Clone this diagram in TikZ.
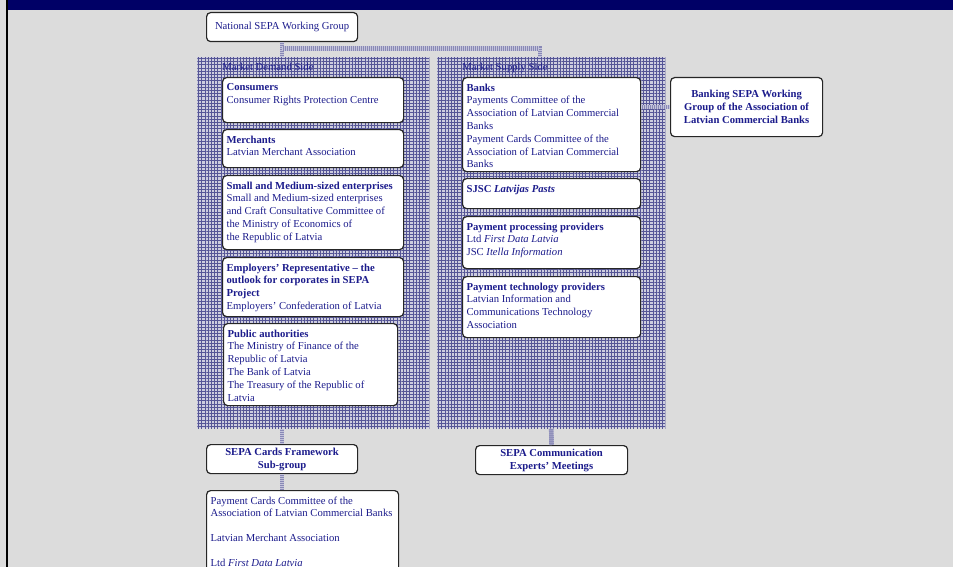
\documentclass[tikz,border=0pt]{standalone}
\usepackage{fontspec}
\setmainfont{Liberation Serif}
\usepackage{tikz}
\usetikzlibrary{patterns.meta,calc}
\definecolor{bandnavy}{RGB}{0,0,102}
\definecolor{textnavy}{RGB}{28,28,140}
\definecolor{pagegray}{RGB}{220,220,220}
\definecolor{panelbase}{RGB}{205,205,222}
\definecolor{panelnavy}{RGB}{85,85,150}
\tikzset{
    entry-box/.style = {draw=black!85, fill=white, line width=0.9pt, rectangle, rounded corners=3pt, inner xsep=3pt, inner ysep=4.5pt, anchor=north west, text=textnavy, font=\fontsize{8}{9.6}\selectfont},
    head-box/.style = {draw=black!85, fill=white, line width=0.9pt, rectangle, rounded corners=3pt, inner sep=2pt, anchor=north west, align=center, text=textnavy, font=\fontsize{8}{9.6}\selectfont\bfseries},
    panel-box/.style = {rectangle, anchor=north west, inner sep=0pt, fill=panelbase, postaction={pattern={Hatch[angle=0,distance=2.4pt,line width=0.4pt]}, pattern color=panelnavy}},
    panel-title/.style = {anchor=base west, inner sep=0pt, text=textnavy, font=\fontsize{8}{9.6}\selectfont},
    link-line/.style = {draw=panelnavy!70, line width=3.5pt, postaction={draw=white, line width=3.5pt, dash pattern=on 0.5pt off 1pt, opacity=0.5}},
}

\begin{document}
\begin{tikzpicture}[x=0.75pt, y=-0.75pt]
\clip (0,0) rectangle (953,567);
\fill[pagegray] (0,0) rectangle (953,567);
\fill[bandnavy] (8,0) rectangle (953,10);
\fill[black] (6,0) rectangle (8,567);

\node[head-box, font=\fontsize{8}{9.6}\selectfont, minimum width=113.25pt, minimum height=21.75pt] (national) at (206,12) {National SEPA Working Group};

\node[panel-box, minimum width=174pt, minimum height=278.25pt] (demand) at (197,57) {};
\node[panel-box, minimum width=171pt, minimum height=278.25pt] (supply) at (437,57) {};
\node[panel-title] (demandtitle) at (222,71) {Market Demand Side};
\node[panel-title] (supplytitle) at (462,71) {Market Supply Side};

\node[entry-box] (consumers) at (222,77) {\begin{minipage}[t][24.75pt][t]{129.75pt}
    \textbf{Consumers}\\Consumer Rights Protection Centre
\end{minipage}};
\node[entry-box] (merchants) at (222,129) {\begin{minipage}[t][19.5pt][t]{129.75pt}
    \textbf{Merchants}\\Latvian Merchant Association
\end{minipage}};
\node[entry-box] (sme) at (222,175) {\begin{minipage}[t][46.5pt][t]{129.75pt}
    \textbf{Small and Medium-sized enterprises}\\Small and Medium-sized enterprises\\and Craft Consultative Committee of\\the Ministry of Economics of\\the Republic of Latvia
\end{minipage}};
\node[entry-box] (employers) at (222,257) {\begin{minipage}[t][35.25pt][t]{129.75pt}
    \textbf{Employers' Representative -- the\\outlook for corporates in SEPA\\Project}\\Employers' Confederation of Latvia
\end{minipage}};
\node[entry-box] (public) at (223,323) {\begin{minipage}[t][52.5pt][t]{124.5pt}
    \textbf{Public authorities}\\The Ministry of Finance of the\\Republic of Latvia\\The Bank of Latvia\\The Treasury of the Republic of\\Latvia
\end{minipage}};

\node[entry-box] (banks) at (462,77) {\begin{minipage}[t][61.5pt][t]{127.5pt}
    \textbf{Banks}\\Payments Committee of the\\Association of Latvian Commercial\\Banks\\Payment Cards Committee of the\\Association of Latvian Commercial\\Banks
\end{minipage}};
\node[entry-box] (post) at (462,178) {\begin{minipage}[t][13.5pt][t]{127.5pt}
    \textbf{SJSC \textit{Latvijas Pasts}}
\end{minipage}};
\node[entry-box] (processing) at (462,216) {\begin{minipage}[t][30pt][t]{127.5pt}
    \textbf{Payment processing providers}\\Ltd \textit{First Data Latvia}\\JSC \textit{Itella Information}
\end{minipage}};
\node[entry-box] (technology) at (462,276) {\begin{minipage}[t][36.75pt][t]{127.5pt}
    \textbf{Payment technology providers}\\Latvian Information and\\Communications Technology\\Association
\end{minipage}};

\node[head-box, minimum width=114pt, minimum height=44.25pt] (bankwg) at (670,77) {Banking SEPA Working\\Group of the Association of\\Latvian Commercial Banks};

\node[head-box, minimum width=113.25pt, minimum height=21.75pt] (cards) at (206,444) {SEPA Cards Framework\\Sub-group};
\node[head-box, minimum width=114pt, minimum height=21.75pt] (comm) at (475,445) {SEPA Communication\\Experts' Meetings};

\node[entry-box] (members) at (206,490) {\begin{minipage}[t][110pt][t]{138pt}
    Payment Cards Committee of the\\Association of Latvian Commercial Banks\\[9pt]Latvian Merchant Association\\[9pt]Ltd \textit{First Data Latvia}
\end{minipage}};

\draw[link-line] (national.south) -- (national.south |- demand.north);
\draw[link-line] ($(national.south)+(0,6)$) -| ($(supply.north west)+(103,0)$);
\draw[link-line] (bankwg.west) -- (bankwg.west -| banks.east);
\draw[link-line] (cards.north |- demand.south) -- (cards.north);
\draw[link-line] (cards.south) -- (cards.south |- members.north);
\draw[link-line] (supply.south) -- (comm.north);
\end{tikzpicture}
\end{document}
